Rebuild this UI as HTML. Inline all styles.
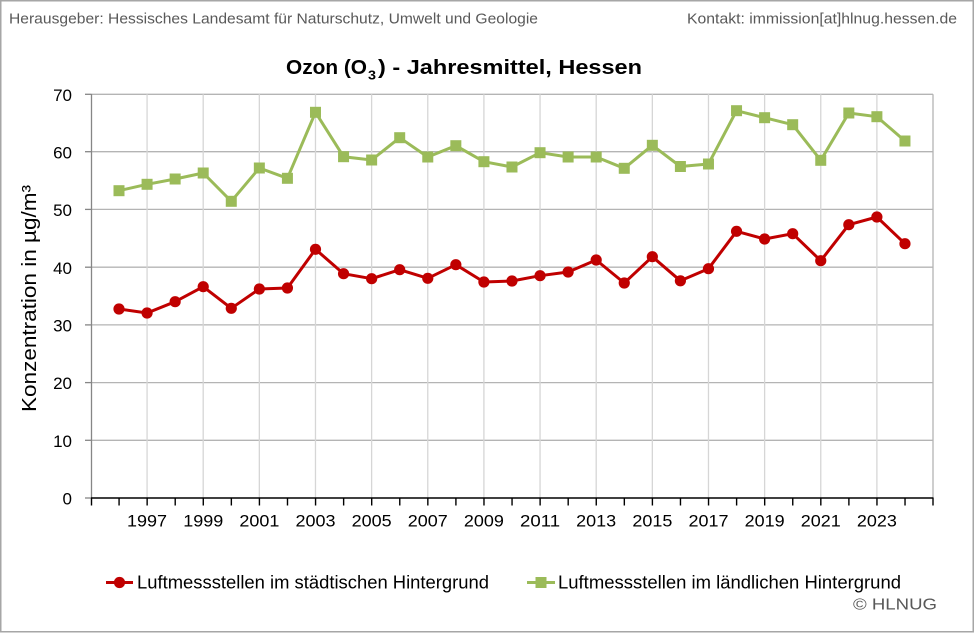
<!DOCTYPE html>
<html><head><meta charset="utf-8"><style>
html,body{margin:0;padding:0;background:#fff;}
svg{display:block;}
text{font-family:"Liberation Sans",Arial,sans-serif;}
</style></head><body>
<svg width="975" height="633" viewBox="0 0 975 633" xmlns="http://www.w3.org/2000/svg">
<rect x="0" y="0" width="975" height="633" fill="#fff"/>
<rect x="0.75" y="0.75" width="972.5" height="631" fill="none" stroke="#a6a6a6" stroke-width="1.5"/>
<!-- header -->
<text x="9" y="23.5" font-size="14.5" fill="#595959" textLength="529" lengthAdjust="spacingAndGlyphs">Herausgeber: Hessisches Landesamt für Naturschutz, Umwelt und Geologie</text>
<text x="687" y="23.5" font-size="14.5" fill="#595959" textLength="270" lengthAdjust="spacingAndGlyphs">Kontakt: immission[at]hlnug.hessen.de</text>
<!-- title -->
<text x="286" y="74" font-size="20" font-weight="bold" fill="#000" textLength="81" lengthAdjust="spacingAndGlyphs">Ozon (O</text>
<text x="368" y="79.5" font-size="13" font-weight="bold" fill="#000" textLength="8" lengthAdjust="spacingAndGlyphs">3</text>
<text x="378" y="74" font-size="20" font-weight="bold" fill="#000" textLength="264" lengthAdjust="spacingAndGlyphs">) - Jahresmittel, Hessen</text>
<!-- horizontal gridlines -->
<g stroke="#b4b4b4" stroke-width="1.3">
<line x1="91.5" y1="94.3" x2="933" y2="94.3"/>
<line x1="91.5" y1="151.7" x2="933" y2="151.7"/>
<line x1="91.5" y1="209.4" x2="933" y2="209.4"/>
<line x1="91.5" y1="267.2" x2="933" y2="267.2"/>
<line x1="91.5" y1="324.9" x2="933" y2="324.9"/>
<line x1="91.5" y1="382.6" x2="933" y2="382.6"/>
<line x1="91.5" y1="440.3" x2="933" y2="440.3"/>
</g>
<!-- vertical gridlines -->
<g stroke="#d6d6d6" stroke-width="1.3">
<line x1="147.07" y1="94.3" x2="147.07" y2="498"/>
<line x1="203.21" y1="94.3" x2="203.21" y2="498"/>
<line x1="259.35" y1="94.3" x2="259.35" y2="498"/>
<line x1="315.49" y1="94.3" x2="315.49" y2="498"/>
<line x1="371.63" y1="94.3" x2="371.63" y2="498"/>
<line x1="427.77" y1="94.3" x2="427.77" y2="498"/>
<line x1="483.91" y1="94.3" x2="483.91" y2="498"/>
<line x1="540.05" y1="94.3" x2="540.05" y2="498"/>
<line x1="596.19" y1="94.3" x2="596.19" y2="498"/>
<line x1="652.33" y1="94.3" x2="652.33" y2="498"/>
<line x1="708.47" y1="94.3" x2="708.47" y2="498"/>
<line x1="764.61" y1="94.3" x2="764.61" y2="498"/>
<line x1="820.75" y1="94.3" x2="820.75" y2="498"/>
<line x1="876.89" y1="94.3" x2="876.89" y2="498"/>
</g>
<line x1="933" y1="94.3" x2="933" y2="498" stroke="#b4b4b4" stroke-width="1.3"/>
<!-- y axis -->
<g stroke="#868686" stroke-width="1.3">
<line x1="91.5" y1="94" x2="91.5" y2="498"/>
<line x1="85" y1="94.3" x2="91.5" y2="94.3"/>
<line x1="85" y1="151.7" x2="91.5" y2="151.7"/>
<line x1="85" y1="209.4" x2="91.5" y2="209.4"/>
<line x1="85" y1="267.2" x2="91.5" y2="267.2"/>
<line x1="85" y1="324.9" x2="91.5" y2="324.9"/>
<line x1="85" y1="382.6" x2="91.5" y2="382.6"/>
<line x1="85" y1="440.3" x2="91.5" y2="440.3"/>
<line x1="85" y1="498" x2="91.5" y2="498"/>
</g>
<!-- x axis -->
<line x1="91" y1="498" x2="933.5" y2="498" stroke="#000" stroke-width="1.6"/>
<path stroke="#000" stroke-width="1.4" d="M91.5 498v7.5M119.07 498v7.5M147.14 498v7.5M175.21 498v7.5M203.28 498v7.5M231.35 498v7.5M259.42 498v7.5M287.49 498v7.5M315.56 498v7.5M343.63 498v7.5M371.7 498v7.5M399.77 498v7.5M427.84 498v7.5M455.91 498v7.5M483.98 498v7.5M512.05 498v7.5M540.12 498v7.5M568.19 498v7.5M596.26 498v7.5M624.33 498v7.5M652.4 498v7.5M680.47 498v7.5M708.54 498v7.5M736.61 498v7.5M764.68 498v7.5M792.75 498v7.5M820.82 498v7.5M848.89 498v7.5M876.96 498v7.5M905.03 498v7.5M933 498v7.5"/>
<!-- y tick labels -->
<g font-size="17" fill="#000" text-anchor="end">
<text x="72" y="101">70</text>
<text x="72" y="158.3">60</text>
<text x="72" y="216">50</text>
<text x="72" y="273.8">40</text>
<text x="72" y="331.5">30</text>
<text x="72" y="389.2">20</text>
<text x="72" y="446.9">10</text>
<text x="72" y="504.6">0</text>
</g>
<!-- y title -->
<text transform="translate(36,298.5) rotate(-90)" font-size="20" fill="#000" text-anchor="middle" textLength="227" lengthAdjust="spacingAndGlyphs">Konzentration in µg/m³</text>
<!-- x tick labels -->
<g font-size="17" fill="#000" text-anchor="middle">
<text x="147.07" y="526.5" textLength="40" lengthAdjust="spacingAndGlyphs">1997</text>
<text x="203.21" y="526.5" textLength="40" lengthAdjust="spacingAndGlyphs">1999</text>
<text x="259.35" y="526.5" textLength="40" lengthAdjust="spacingAndGlyphs">2001</text>
<text x="315.49" y="526.5" textLength="40" lengthAdjust="spacingAndGlyphs">2003</text>
<text x="371.63" y="526.5" textLength="40" lengthAdjust="spacingAndGlyphs">2005</text>
<text x="427.77" y="526.5" textLength="40" lengthAdjust="spacingAndGlyphs">2007</text>
<text x="483.91" y="526.5" textLength="40" lengthAdjust="spacingAndGlyphs">2009</text>
<text x="540.05" y="526.5" textLength="40" lengthAdjust="spacingAndGlyphs">2011</text>
<text x="596.19" y="526.5" textLength="40" lengthAdjust="spacingAndGlyphs">2013</text>
<text x="652.33" y="526.5" textLength="40" lengthAdjust="spacingAndGlyphs">2015</text>
<text x="708.47" y="526.5" textLength="40" lengthAdjust="spacingAndGlyphs">2017</text>
<text x="764.61" y="526.5" textLength="40" lengthAdjust="spacingAndGlyphs">2019</text>
<text x="820.75" y="526.5" textLength="40" lengthAdjust="spacingAndGlyphs">2021</text>
<text x="876.89" y="526.5" textLength="40" lengthAdjust="spacingAndGlyphs">2023</text>
</g>
<!-- green series -->
<polyline fill="none" stroke="#9bbb59" stroke-width="3" stroke-linejoin="round" points="119,190.7 147.07,184.3 175.14,179 203.21,173 231.28,201.3 259.35,168 287.42,178.3 315.49,112.3 343.56,156.7 371.63,160 399.7,137.7 427.77,157 455.84,145.7 483.91,161.7 511.98,167 540.05,152.7 568.12,157 596.19,157 624.26,168.3 652.33,145.3 680.4,166.5 708.47,164 736.54,110.7 764.61,117.7 792.68,124.7 820.75,160.3 848.82,113 876.89,116.7 904.96,141"/>
<g fill="#9bbb59">
<rect x="113.5" y="185.2" width="11" height="11"/>
<rect x="141.57" y="178.8" width="11" height="11"/>
<rect x="169.64" y="173.5" width="11" height="11"/>
<rect x="197.71" y="167.5" width="11" height="11"/>
<rect x="225.78" y="195.8" width="11" height="11"/>
<rect x="253.85" y="162.5" width="11" height="11"/>
<rect x="281.92" y="172.8" width="11" height="11"/>
<rect x="309.99" y="106.8" width="11" height="11"/>
<rect x="338.06" y="151.2" width="11" height="11"/>
<rect x="366.13" y="154.5" width="11" height="11"/>
<rect x="394.2" y="132.2" width="11" height="11"/>
<rect x="422.27" y="151.5" width="11" height="11"/>
<rect x="450.34" y="140.2" width="11" height="11"/>
<rect x="478.41" y="156.2" width="11" height="11"/>
<rect x="506.48" y="161.5" width="11" height="11"/>
<rect x="534.55" y="147.2" width="11" height="11"/>
<rect x="562.62" y="151.5" width="11" height="11"/>
<rect x="590.69" y="151.5" width="11" height="11"/>
<rect x="618.76" y="162.8" width="11" height="11"/>
<rect x="646.83" y="139.8" width="11" height="11"/>
<rect x="674.9" y="161" width="11" height="11"/>
<rect x="702.97" y="158.5" width="11" height="11"/>
<rect x="731.04" y="105.2" width="11" height="11"/>
<rect x="759.11" y="112.2" width="11" height="11"/>
<rect x="787.18" y="119.2" width="11" height="11"/>
<rect x="815.25" y="154.8" width="11" height="11"/>
<rect x="843.32" y="107.5" width="11" height="11"/>
<rect x="871.39" y="111.2" width="11" height="11"/>
<rect x="899.46" y="135.5" width="11" height="11"/>
</g>
<!-- red series -->
<polyline fill="none" stroke="#c00000" stroke-width="3" stroke-linejoin="round" points="119,309 147.07,313 175.14,301.7 203.21,286.7 231.28,308.3 259.35,289 287.42,288 315.49,249.3 343.56,273.7 371.63,278.7 399.7,269.7 427.77,278.3 455.84,264.7 483.91,282 511.98,281 540.05,275.7 568.12,272 596.19,260 624.26,283 652.33,256.7 680.4,280.8 708.47,268.7 736.54,231.3 764.61,239 792.68,233.7 820.75,260.7 848.82,224.7 876.89,217 904.96,243.7"/>
<g fill="#c00000">
<circle cx="119" cy="309" r="5.6"/>
<circle cx="147.07" cy="313" r="5.6"/>
<circle cx="175.14" cy="301.7" r="5.6"/>
<circle cx="203.21" cy="286.7" r="5.6"/>
<circle cx="231.28" cy="308.3" r="5.6"/>
<circle cx="259.35" cy="289" r="5.6"/>
<circle cx="287.42" cy="288" r="5.6"/>
<circle cx="315.49" cy="249.3" r="5.6"/>
<circle cx="343.56" cy="273.7" r="5.6"/>
<circle cx="371.63" cy="278.7" r="5.6"/>
<circle cx="399.7" cy="269.7" r="5.6"/>
<circle cx="427.77" cy="278.3" r="5.6"/>
<circle cx="455.84" cy="264.7" r="5.6"/>
<circle cx="483.91" cy="282" r="5.6"/>
<circle cx="511.98" cy="281" r="5.6"/>
<circle cx="540.05" cy="275.7" r="5.6"/>
<circle cx="568.12" cy="272" r="5.6"/>
<circle cx="596.19" cy="260" r="5.6"/>
<circle cx="624.26" cy="283" r="5.6"/>
<circle cx="652.33" cy="256.7" r="5.6"/>
<circle cx="680.4" cy="280.8" r="5.6"/>
<circle cx="708.47" cy="268.7" r="5.6"/>
<circle cx="736.54" cy="231.3" r="5.6"/>
<circle cx="764.61" cy="239" r="5.6"/>
<circle cx="792.68" cy="233.7" r="5.6"/>
<circle cx="820.75" cy="260.7" r="5.6"/>
<circle cx="848.82" cy="224.7" r="5.6"/>
<circle cx="876.89" cy="217" r="5.6"/>
<circle cx="904.96" cy="243.7" r="5.6"/>
</g>
<!-- legend -->
<line x1="106" y1="582.5" x2="133" y2="582.5" stroke="#c00000" stroke-width="3"/>
<circle cx="119.5" cy="582.5" r="5.6" fill="#c00000"/>
<text x="137" y="588.5" font-size="18" fill="#000" textLength="352" lengthAdjust="spacingAndGlyphs">Luftmessstellen im städtischen Hintergrund</text>
<line x1="527" y1="582.5" x2="555" y2="582.5" stroke="#9bbb59" stroke-width="3"/>
<rect x="535.5" y="577" width="11" height="11" fill="#9bbb59"/>
<text x="558" y="588.5" font-size="18" fill="#000" textLength="343" lengthAdjust="spacingAndGlyphs">Luftmessstellen im ländlichen Hintergrund</text>
<text x="853" y="609.5" font-size="16" fill="#595959" textLength="84" lengthAdjust="spacingAndGlyphs">© HLNUG</text>
</svg>
</body></html>
